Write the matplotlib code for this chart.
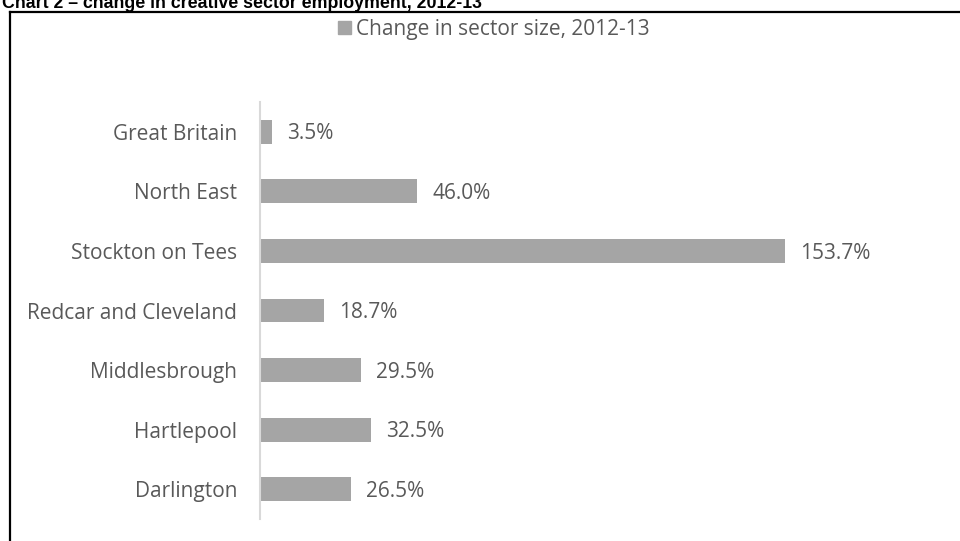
import matplotlib.pyplot as plt
from matplotlib.lines import Line2D
import numpy as np

categories = ["Great Britain", "North East", "Stockton on Tees", "Redcar and Cleveland",
              "Middlesbrough", "Hartlepool", "Darlington"]
values = [3.5, 46.0, 153.7, 18.7, 29.5, 32.5, 26.5]
series_name = "Change in sector size, 2012-13"
title = "Chart 2 \u2013 change in creative sector employment, 2012-13"

W, H = 960, 541
bar_col = "#a5a5a5"
txt_col = "#595959"
font = "Open Sans"
fs = 15.0

fig = plt.figure(figsize=(W / 100, H / 100), dpi=100)

# plot area in pixels: x 260..875, y 102..519
ax = fig.add_axes([260 / W, 1 - 519 / H, (875 - 260) / W, (519 - 102) / H])
y = np.arange(len(categories))
ax.barh(y, values, height=0.40, color=bar_col, zorder=2)
ax.set_ylim(len(categories) - 0.5, -0.5)
ax.set_xlim(0, 180)

for yi, v in zip(y, values):
    ax.annotate(f"{v:.1f}%", (v, yi), xytext=(11, -1.5), textcoords="offset points",
                ha="left", va="center", color=txt_col, fontsize=fs, family=font)

ax.set_yticks(y)
ax.set_yticklabels(categories, fontsize=fs, color=txt_col, family=font)
ax.tick_params(axis="y", length=0, pad=16.5)
ax.set_xticks([])
for s in ["top", "right", "bottom"]:
    ax.spines[s].set_visible(False)
ax.spines["left"].set_color("#d9d9d9")
ax.spines["left"].set_linewidth(1.5)

# legend
fig.patches.append(plt.Rectangle((338 / W, 1 - 34 / H), 13 / W, 13 / H,
                                 transform=fig.transFigure, color=bar_col))
fig.text(356 / W, 1 - 29.5 / H, series_name, ha="left", va="center",
         fontsize=fs, color=txt_col, family=font)

# outer frame (top and left only, as in the crop)
fig.add_artist(Line2D([10 / W, 1], [1 - 12 / H, 1 - 12 / H], color="black", lw=1.6,
                      transform=fig.transFigure))
fig.add_artist(Line2D([10 / W, 10 / W], [1 - 12 / H, 0], color="black", lw=1.6,
                      transform=fig.transFigure))

# report title, clipped by the top edge as in the source
fig.text(2 / W, 1 - 7.5 / H, title, ha="left", va="baseline", fontsize=12.8,
         fontweight="bold", family="Liberation Sans", color="black")

fig.savefig("out.png", dpi=100)
